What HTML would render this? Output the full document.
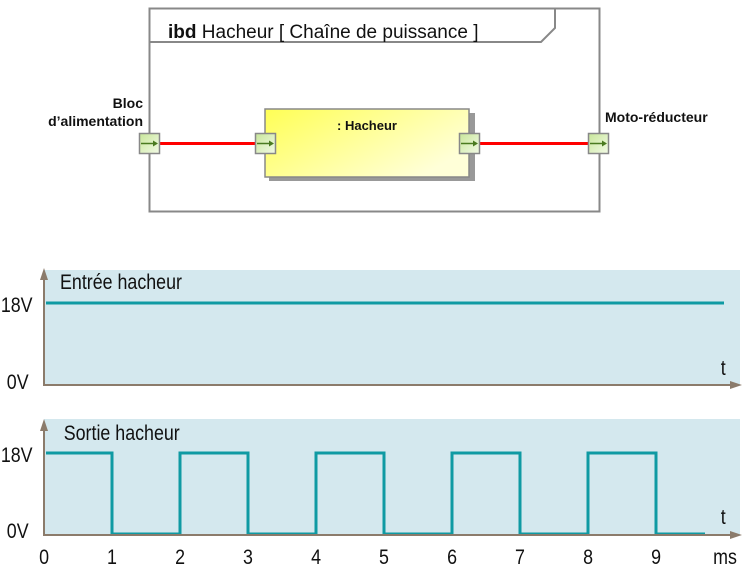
<!DOCTYPE html>
<html><head><meta charset="utf-8"><style>body{margin:0;background:#fff}</style></head><body>
<svg width="745" height="572" xmlns="http://www.w3.org/2000/svg" font-family="Liberation Sans, sans-serif">
<defs>
<linearGradient id="yg" x1="0" y1="0" x2="1" y2="0.6"><stop offset="0" stop-color="#ffff55"/><stop offset="1" stop-color="#ffffd8"/></linearGradient>
<linearGradient id="pg" x1="0" y1="0" x2="1" y2="1"><stop offset="0" stop-color="#c8e69a"/><stop offset="1" stop-color="#f2fae6"/></linearGradient>
</defs>
<rect x="149.5" y="8.5" width="450" height="203" fill="#fff" stroke="#888" stroke-width="2"/>
<polyline points="149.5,42 541,42 555,28 555,8.5" fill="none" stroke="#888" stroke-width="2"/>
<text x="168" y="38" font-size="19" fill="#111"><tspan font-weight="bold">ibd</tspan> Hacheur [ Chaîne de puissance ]</text>
<rect x="269" y="113" width="206" height="68" fill="#999"/>
<rect x="265" y="109" width="204" height="68" fill="url(#yg)" stroke="#888" stroke-width="1.5"/>
<text x="367" y="130" font-size="13" font-weight="bold" text-anchor="middle" fill="#111">: Hacheur</text>
<line x1="160" y1="143.5" x2="256" y2="143.5" stroke="#f00" stroke-width="3"/>
<line x1="480" y1="143.5" x2="589" y2="143.5" stroke="#f00" stroke-width="3"/>
<g stroke="#888" stroke-width="1.5" fill="url(#pg)">
<rect x="139.5" y="133.5" width="20" height="20"/>
<rect x="255.5" y="133.5" width="20" height="20"/>
<rect x="459.5" y="133.5" width="20" height="20"/>
<rect x="588.5" y="133.5" width="20" height="20"/>
</g>
<g stroke="#4a7a20" stroke-width="1.5" fill="#4a7a20">
<line x1="141" y1="143.5" x2="154" y2="143.5"/><polygon points="153,140.5 158,143.5 153,146.5" stroke="none"/>
<line x1="257" y1="143.5" x2="270" y2="143.5"/><polygon points="269,140.5 274,143.5 269,146.5" stroke="none"/>
<line x1="461" y1="143.5" x2="474" y2="143.5"/><polygon points="473,140.5 478,143.5 473,146.5" stroke="none"/>
<line x1="590" y1="143.5" x2="603" y2="143.5"/><polygon points="602,140.5 607,143.5 602,146.5" stroke="none"/>
</g>
<text x="143" y="108" font-size="14" font-weight="bold" text-anchor="end" fill="#111">Bloc</text>
<text x="143" y="126" font-size="14" font-weight="bold" text-anchor="end" fill="#111">d’alimentation</text>
<text x="605" y="122" font-size="14" font-weight="bold" fill="#111">Moto-réducteur</text>

<rect x="44" y="270" width="696" height="115" fill="#d4e8ee"/>
<line x1="46" y1="303" x2="724" y2="303" stroke="#0f9aa3" stroke-width="3"/>
<g stroke="#8b7b6b" stroke-width="2" fill="#8b7b6b">
<line x1="44" y1="276" x2="44" y2="385"/><polygon points="40,280 44,268 48,280" stroke="none"/>
<line x1="43" y1="385" x2="732" y2="385"/><polygon points="730,381 742,385 730,389" stroke="none"/>
</g>
<g font-size="21" fill="#111" transform="scale(0.85,1)">
<text x="70.6" y="289">Entrée hacheur</text>
<text x="1" y="312">18V</text>
<text x="8" y="389">0V</text>
<text x="848" y="375">t</text>
</g>

<rect x="44" y="419" width="696" height="116" fill="#d4e8ee"/>
<polyline points="46,453 112,453 112,534 180,534 180,453 248,453 248,534 316,534 316,453 384,453 384,534 452,534 452,453 520,453 520,534 588,534 588,453 656,453 656,534 705,534" fill="none" stroke="#0f9aa3" stroke-width="3"/>
<g stroke="#8b7b6b" stroke-width="2" fill="#8b7b6b">
<line x1="44" y1="427" x2="44" y2="535"/><polygon points="40,431 44,419 48,431" stroke="none"/>
<line x1="43" y1="535" x2="732" y2="535"/><polygon points="730,531 742,535 730,539" stroke="none"/>
</g>
<g font-size="21" fill="#111" transform="scale(0.85,1)">
<text x="75" y="440">Sortie hacheur</text>
<text x="1" y="462">18V</text>
<text x="8" y="538">0V</text>
<text x="848" y="524">t</text>
<g text-anchor="middle">
<text x="51.8" y="564">0</text><text x="131.8" y="564">1</text><text x="211.8" y="564">2</text><text x="291.8" y="564">3</text><text x="371.8" y="564">4</text><text x="451.8" y="564">5</text><text x="531.8" y="564">6</text><text x="611.8" y="564">7</text><text x="691.8" y="564">8</text><text x="771.8" y="564">9</text><text x="853" y="564">ms</text>
</g>
</g>
</svg>
</body></html>
